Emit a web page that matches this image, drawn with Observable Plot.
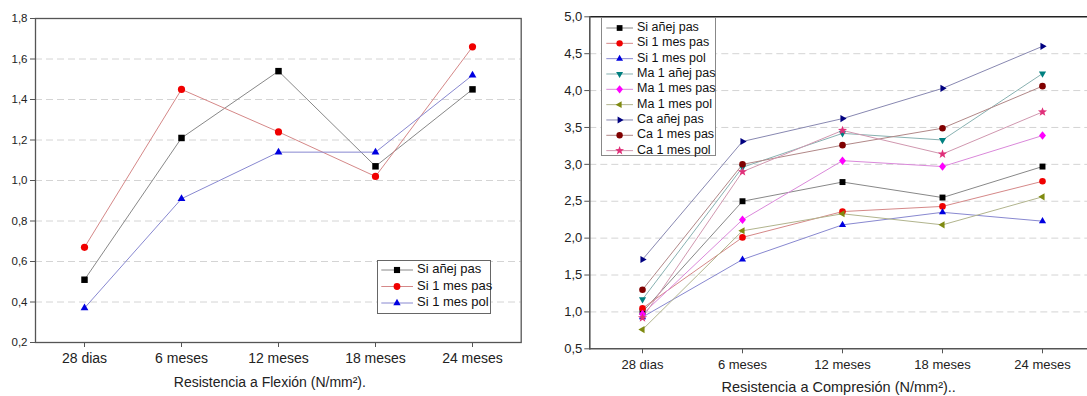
<!DOCTYPE html>
<html><head><meta charset="utf-8">
<script src="https://cdn.jsdelivr.net/npm/d3@7"></script>
<script src="https://cdn.jsdelivr.net/npm/@observablehq/plot@0.6"></script>
<style>
html,body{margin:0;padding:0;background:#fff;}
#wrap{position:relative;width:1087px;height:396px;overflow:hidden;font-family:Arial,"Liberation Sans",sans-serif;}
#left{position:absolute;left:0;top:0;}
#right{position:absolute;left:545px;top:0;}
.legend{position:absolute;background:#fff;border:1px solid #666;box-sizing:border-box;}
.legend svg{position:absolute;left:0;top:0;overflow:visible;}
.legend span{position:absolute;white-space:nowrap;}
</style></head><body><div id="wrap"><div id="left"></div><div id="right"></div></div>
<script>
// ---------- data ----------
const ages = ["28 dias", "6 meses", "12 meses", "18 meses", "24 meses"];

// Resistencia a Flexión
const flexSeries = ["Si añej pas", "Si 1 mes pas", "Si 1 mes pol"];
const flexSiAnejPas = [0.51, 1.21, 1.54, 1.07, 1.45];
const flexSi1MesPas = [0.67, 1.45, 1.24, 1.02, 1.66];
const flexSi1MesPol = [0.37, 0.91, 1.14, 1.14, 1.52];
const flexTicks = [0.2, 0.4, 0.6, 0.8, 1.0, 1.2, 1.4, 1.6, 1.8];
const flexTitle = "Resistencia a Flexión (N/mm²).";

// Resistencia a Compresión
const compSeries = ["Si añej pas", "Si 1 mes pas", "Si 1 mes pol", "Ma 1 añej pas", "Ma 1 mes pas",
  "Ma 1 mes pol", "Ca añej pas", "Ca 1 mes pas", "Ca 1 mes pol"];
const compSiAnejPas = [1.00, 2.50, 2.76, 2.55, 2.97];
const compSi1MesPas = [1.05, 2.01, 2.36, 2.43, 2.77];
const compSi1MesPol = [0.93, 1.71, 2.18, 2.35, 2.23];
const compMa1AnejPas = [1.17, 2.96, 3.42, 3.33, 4.23];
const compMa1MesPas = [0.97, 2.25, 3.05, 2.97, 3.39];
const compMa1MesPol = [0.76, 2.10, 2.33, 2.18, 2.56];
const compCaAnejPas = [1.71, 3.31, 3.62, 4.03, 4.60];
const compCa1MesPas = [1.30, 3.00, 3.26, 3.49, 4.06];
const compCa1MesPol = [0.92, 2.90, 3.46, 3.14, 3.71];
const compTicks = [0.5, 1.0, 1.5, 2.0, 2.5, 3.0, 3.5, 4.0, 4.5, 5.0];
const compTitle = "Resistencia a Compresión (N/mm²)..";

// ---------- styling ----------
const font = "Arial, 'Liberation Sans', sans-serif";
const fmt = d => d.toFixed(1).replace(".", ",");

function sym(fn) { return {draw(c, size) { fn(c, Math.sqrt(size / Math.PI)); }}; }
const symSquare = sym((c, r) => { const h = r * 0.9; c.rect(-h, -h, 2 * h, 2 * h); });
const symCircle = sym((c, r) => { c.moveTo(r, 0); c.arc(0, 0, r, 0, 2 * Math.PI); });
const tri = ang => sym((c, r) => {
  const R = r * 1.25;
  for (let i = 0; i < 3; i++) {
    const a = ang + i * 2 * Math.PI / 3, x = R * Math.cos(a), y = R * Math.sin(a);
    i ? c.lineTo(x, y) : c.moveTo(x, y);
  }
  c.closePath();
});
const symUp = tri(-Math.PI / 2), symDown = tri(Math.PI / 2), symLeft = tri(Math.PI), symRight = tri(0);
const symDiamond = sym((c, r) => { c.moveTo(0, -1.3 * r); c.lineTo(1.05 * r, 0); c.lineTo(0, 1.3 * r); c.lineTo(-1.05 * r, 0); c.closePath(); });
const symStar = sym((c, r) => {
  for (let i = 0; i < 10; i++) {
    const a = -Math.PI / 2 + i * Math.PI / 5, R = i % 2 ? r * 0.6 : r * 1.45;
    const x = R * Math.cos(a), y = R * Math.sin(a);
    i ? c.lineTo(x, y) : c.moveTo(x, y);
  }
  c.closePath();
});

const flexColors = ["#000000", "#f00000", "#0000e0"];
const flexSymbols = [symSquare, symCircle, symUp];
const compColors = ["#000000", "#f00000", "#0000e0", "#008080", "#ff00ff", "#7f8a10", "#000080", "#800000", "#e0307a"];
const compSymbols = [symSquare, symCircle, symUp, symDown, symDiamond, symLeft, symRight, symCircle, symStar];
const lineColor = c => d3.interpolateRgb(c, "#c8c8c8")(0.68);

const rows = arr => ages.map((a, j) => ({age: a, value: arr[j]}));

function seriesMarks(seriesValues, colors, symbols, r) {
  const lines = seriesValues.map((v, i) => Plot.line(rows(v), {x: "age", y: "value", stroke: lineColor(colors[i]), strokeWidth: 1}));
  const dots = seriesValues.map((v, i) => Plot.dot(rows(v), {x: "age", y: "value", symbol: symbols[i], fill: colors[i], r}));
  return [...lines, ...dots];
}

// ---------- left chart ----------
const flexValues = [flexSiAnejPas, flexSi1MesPas, flexSi1MesPol];
const left = Plot.plot({
  width: 545, height: 396,
  marginLeft: 35, marginRight: 24.3, marginTop: 18, marginBottom: 54,
  style: {fontFamily: font, background: "transparent", color: "#222", overflow: "visible"},
  x: {type: "point", domain: ages, padding: 0.5},
  y: {domain: [0.2, 1.8]},
  marks: [
    Plot.gridY(flexTicks.slice(1, -1), {stroke: "#d4d4d4", strokeOpacity: 1, strokeDasharray: "7,4"}),
    Plot.frame({stroke: "#555", strokeWidth: 1.3}),
    Plot.axisY(flexTicks, {tickSize: 5, tickPadding: 3, fontSize: 11.5, tickFormat: fmt, label: null, stroke: "#555"}),
    Plot.axisX({tickSize: 5, tickPadding: 6, fontSize: 14, label: null, stroke: "#555"}),
    ...seriesMarks(flexValues, flexColors, flexSymbols, 3.6),
    Plot.text([flexTitle], {frameAnchor: "bottom", dy: 44.7, dx: -8.5, fontSize: 14, lineAnchor: "bottom", fill: "#222"})
  ]
});
document.getElementById("left").appendChild(left);

// ---------- right chart ----------
const compValues = [compSiAnejPas, compSi1MesPas, compSi1MesPol, compMa1AnejPas, compMa1MesPas,
  compMa1MesPol, compCaAnejPas, compCa1MesPas, compCa1MesPol];
const right = Plot.plot({
  width: 542, height: 396,
  marginLeft: 44.3, marginRight: 0, marginTop: 16.3, marginBottom: 47.7,
  style: {fontFamily: font, background: "transparent", color: "#222", overflow: "visible"},
  x: {type: "point", domain: ages, padding: 0.5, range: [45.7, 548.7]},
  y: {domain: [0.5, 5.0]},
  marks: [
    Plot.gridY(compTicks.slice(1, -1), {stroke: "#d4d4d4", strokeOpacity: 1, strokeDasharray: "7,4"}),
    Plot.frame({anchor: "top", stroke: "#222", strokeWidth: 1.5}),
    Plot.frame({anchor: "left", stroke: "#555", strokeWidth: 1.6}),
    Plot.frame({anchor: "bottom", stroke: "#555", strokeWidth: 1.4}),
    Plot.axisY(compTicks, {tickSize: 5, tickPadding: 2.5, fontSize: 13, tickFormat: fmt, label: null, stroke: "#555"}),
    Plot.axisX({tickSize: 5, tickPadding: 6, fontSize: 13, label: null, stroke: "#555"}),
    ...seriesMarks(compValues, compColors, compSymbols, 3.3),
    Plot.text([compTitle], {frameAnchor: "bottom", dy: 43.5, fontSize: 14.5, lineAnchor: "bottom", fill: "#222"})
  ]
});
document.getElementById("right").appendChild(right);

// ---------- legends ----------
function legend(o) {
  const box = document.createElement("div");
  box.className = "legend";
  Object.assign(box.style, {left: o.left + "px", top: o.top + "px", width: o.width + "px", height: o.height + "px", borderColor: o.border});
  o.series.forEach((name, i) => {
    const cy = o.row0 + i * o.step;
    const svg = d3.create("svg").attr("width", 1).attr("height", 1);
    svg.append("line").attr("x1", o.lineX0).attr("x2", o.lineX1).attr("y1", cy).attr("y2", cy)
      .attr("stroke", lineColor(o.colors[i])).attr("stroke-width", 1);
    svg.append("path").attr("d", d3.symbol(o.symbols[i], Math.PI * o.r * o.r)())
      .attr("transform", `translate(${o.markX},${cy})`).attr("fill", o.colors[i]);
    box.appendChild(svg.node());
    const t = document.createElement("span");
    t.textContent = name;
    Object.assign(t.style, {left: o.textX + "px", top: (cy - o.fontSize * 0.58) + "px", fontSize: o.fontSize + "px", lineHeight: "1", color: "#111"});
    box.appendChild(t);
  });
  document.getElementById("wrap").appendChild(box);
}
legend({series: flexSeries, colors: flexColors, symbols: flexSymbols, left: 376.7, top: 260, width: 114.5, height: 53.5,
  border: "#666", row0: 9, step: 16.5, lineX0: 3.3, lineX1: 35, markX: 19, textX: 39.3, fontSize: 13, r: 3.4});
legend({series: compSeries, colors: compColors, symbols: compSymbols, left: 600.7, top: 17.3, width: 115.5, height: 139,
  border: "#888", row0: 10, step: 15.33, lineX0: 4.3, lineX1: 31, markX: 17.6, textX: 35.3, fontSize: 12.5, r: 3.2});
</script></body></html>
